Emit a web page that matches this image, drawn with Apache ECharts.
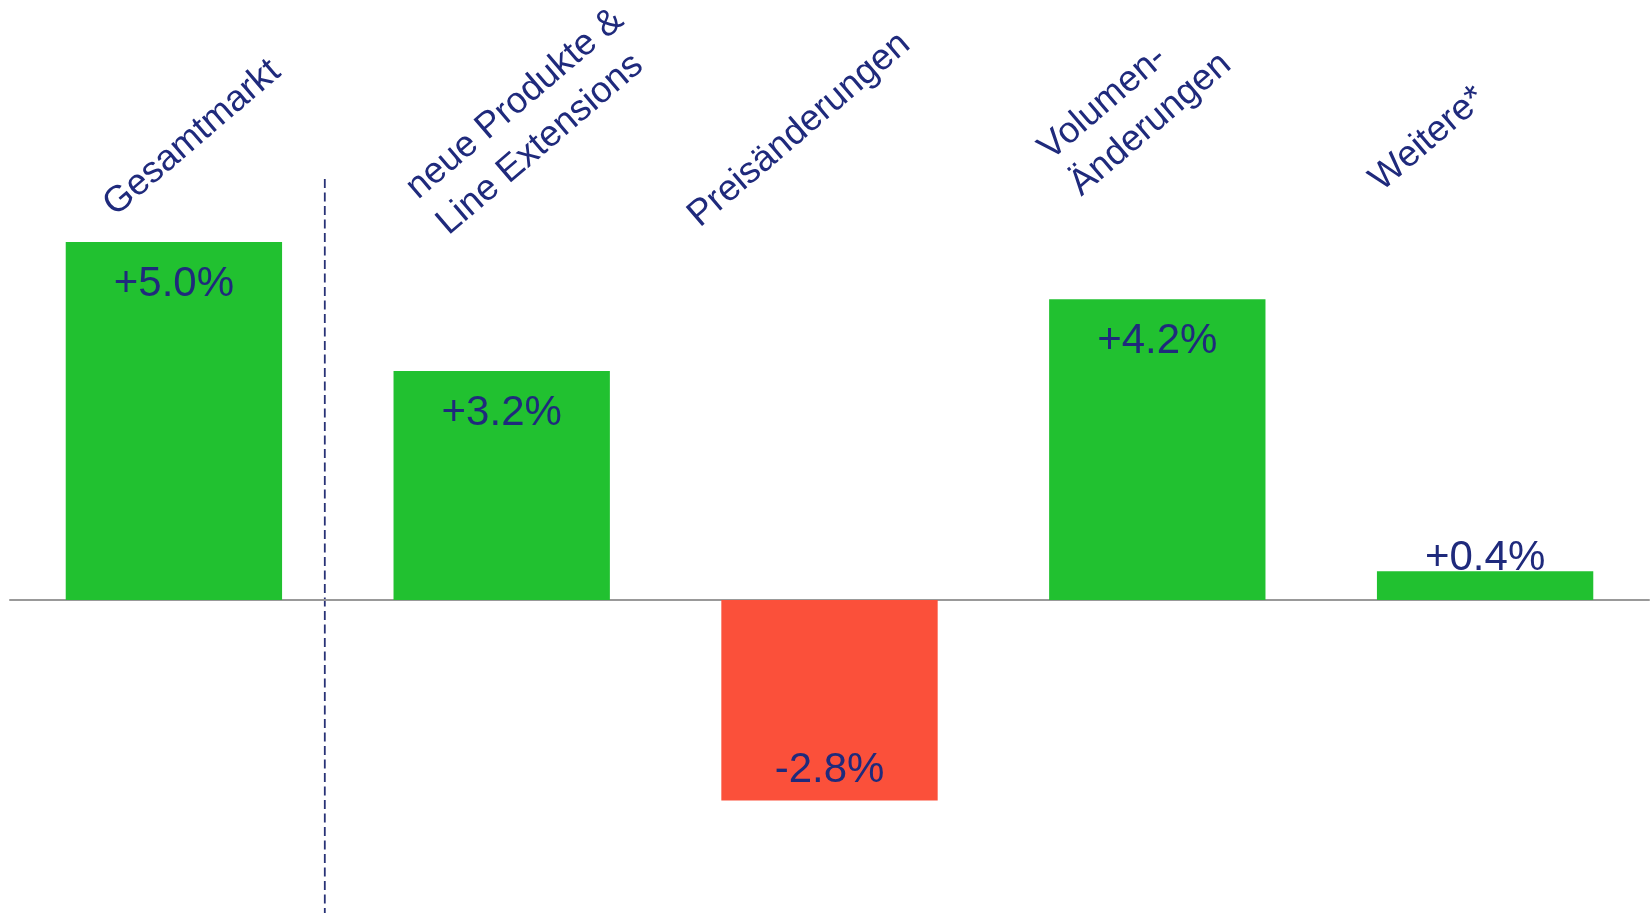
<!DOCTYPE html>
<html><head><meta charset="utf-8">
<script src="https://cdn.jsdelivr.net/npm/echarts@6/dist/echarts.min.js"></script>
<style>html,body{margin:0;padding:0;background:#fff}#c{width:1651px;height:913px}</style>
</head><body><div id="c"></div>
<script>
// ---- data ----
const categories = ['Gesamtmarkt', 'neue Produkte &\nLine Extensions', 'Preisänderungen', 'Volumen-\nÄnderungen', 'Weitere*'];
const values = [5.0, 3.2, -2.8, 4.2, 0.4];

// ---- layout / style ----
const GREEN = '#21C130', RED = '#FB503A', NAVY = '#1F2A7C';
const FONT = '"Liberation Sans", Arial, Helvetica, sans-serif';
const catFontSize = 36.6;
const labelDx = [-57, -82, -128, -105, -102];   // first-line baseline start, offset from bar centre
const labelY  = [219, 202, 230, 163, 194];       // first-line baseline start y
const labelAngle = 40.5;
const labelLineHeight = 47;
const dividerShift = -13;

const fmt = v => (v > 0 ? '+' : '') + v.toFixed(1) + '%';

const chart = echarts.init(document.getElementById('c'), null, {renderer: 'canvas'});

const seriesData = values.map(v => {
  let label;
  if (v < 0) label = {position: 'insideBottom', distance: 9.5};
  else if (v < 1) label = {position: 'top', distance: -8.5};
  else label = {position: 'insideTop', distance: 21.5};
  return {value: v, itemStyle: {color: v < 0 ? RED : GREEN}, label};
});

chart.setOption({
  backgroundColor: '#fff',
  animation: false,
  grid: {left: 10, right: 2, top: 170.4, bottom: 26.6, containLabel: false},
  xAxis: {
    type: 'category', data: categories,
    axisLine: {onZero: true, lineStyle: {color: '#999', width: 2}},
    axisTick: {show: false}, axisLabel: {show: false}, splitLine: {show: false}
  },
  yAxis: {type: 'value', min: -4, max: 6, interval: 1, show: false, splitLine: {show: false}},
  series: [{
    type: 'bar', data: seriesData, barWidth: '66%',
    label: {show: true, formatter: p => fmt(p.value), color: NAVY, fontSize: 42, fontFamily: FONT}
  }]
});

const px = i => chart.convertToPixel({xAxisIndex: 0}, i);
const rot = labelAngle * Math.PI / 180;
const nx = Math.sin(rot), ny = Math.cos(rot);              // unit normal (down-right of the text)
const baseOff = labelLineHeight / 2 + 0.3465 * catFontSize; // box top -> first baseline
const graphics = categories.map((c, i) => ({
  type: 'text',
  x: px(i) + labelDx[i] - baseOff * nx,
  y: labelY[i] - baseOff * ny,
  rotation: rot,
  style: {text: c, font: catFontSize + 'px ' + FONT, fill: NAVY, align: 'left', verticalAlign: 'top', lineHeight: labelLineHeight},
  silent: true
}));
const dx = (px(0) + px(1)) / 2 + dividerShift;
graphics.push({
  type: 'line', shape: {x1: dx, y1: 179, x2: dx, y2: 913},
  style: {stroke: '#283276', lineWidth: 1.8, lineDash: [9, 4.5]}, silent: true
});
chart.setOption({graphic: graphics});
</script></body></html>
